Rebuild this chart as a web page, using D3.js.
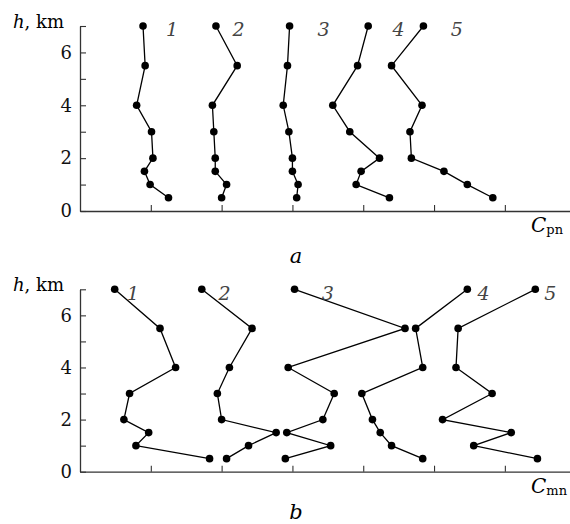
<!DOCTYPE html>
<html>
<head>
<meta charset="utf-8">
<script src="https://cdn.jsdelivr.net/npm/d3@7"></script>
<style>
  body { margin: 0; background: #fff; }
  svg text { font-family: "DejaVu Serif", serif; }
</style>
</head>
<body>
<svg id="chart" width="570" height="524"></svg>
<script>
const heights = [7, 5.5, 4, 3, 2, 1.5, 1, 0.5];
const curveNames = ["1", "2", "3", "4", "5"];

// panel a, C_pn
const cpn1 = [0.89, 0.92, 0.8, 1.01, 1.03, 0.91, 0.99, 1.25];
const cpn2 = [1.92, 2.22, 1.87, 1.89, 1.91, 1.91, 2.07, 2.0];
const cpn3 = [2.96, 2.93, 2.87, 2.95, 3.0, 3.0, 3.08, 3.06];
const cpn4 = [4.07, 3.92, 3.57, 3.81, 4.23, 3.97, 3.9, 4.37];
const cpn5 = [4.85, 4.4, 4.83, 4.66, 4.68, 5.14, 5.47, 5.83];

// panel b, C_mn
const cmn1 = [0.49, 1.13, 1.35, 0.7, 0.62, 0.97, 0.79, 1.83];
const cmn2 = [1.72, 2.43, 2.11, 1.94, 2.0, 2.77, 2.38, 2.07];
const cmn3 = [3.03, 4.59, 2.94, 3.59, 3.43, 2.92, 3.54, 2.9];
const cmn4 = [5.47, 4.74, 4.84, 3.98, 4.13, 4.24, 4.4, 4.84];
const cmn5 = [6.43, 5.34, 5.31, 5.82, 5.12, 6.09, 5.56, 6.46];

// where the curve numbers sit (x in C units, h in km)
const labelsA = [[1.3, 6.8], [2.24, 6.8], [3.44, 6.8], [4.5, 6.8], [5.32, 6.8]];
const labelsB = [[0.75, 6.8], [2.04, 6.8], [3.5, 6.8], [5.7, 6.8], [6.64, 6.8]];

const xTicks = [1, 2, 3, 4, 5, 6];
const yTicks = [0, 1, 2, 3, 4, 5, 6, 7];

const svg = d3.select("#chart");

const x = d3.scaleLinear().domain([0, 6.92]).range([80, 570]);

const drawPanel = (series, labels, y0, y7, letter, sub, letterY) => {
  const y = d3.scaleLinear().domain([0, 7]).range([y0, y7]);
  const g = svg.append("g");

  const yAxis = g
    .append("g")
    .attr("transform", "translate(80,0)")
    .call(
      d3.axisLeft(y)
        .tickValues(yTicks)
        .tickSize(-6)
        .tickSizeOuter(0)
        .tickPadding(8)
        .tickFormat((d) => (d % 2 === 0 ? d : ""))
    );
  const xAxis = g
    .append("g")
    .attr("transform", "translate(0," + y0 + ")")
    .call(
      d3.axisBottom(x)
        .tickValues(xTicks)
        .tickSize(-6)
        .tickSizeOuter(0)
        .tickFormat("")
    );
  [yAxis, xAxis].forEach((a) => {
    a.attr("font-family", null);
    a.select(".domain").attr("stroke", "#333").attr("stroke-width", 1.3);
    a.selectAll(".tick line").attr("stroke", "#333").attr("stroke-width", 1.1);
    a.selectAll("text").attr("font-size", 18).attr("fill", "#111");
  });

  const line = d3
    .line()
    .x((d) => x(d[0]))
    .y((d) => y(d[1]));

  series.forEach((vals, i) => {
    const pts = vals.map((v, j) => [v, heights[j]]);
    g.append("path")
      .attr("d", line(pts))
      .attr("fill", "none")
      .attr("stroke", "#000")
      .attr("stroke-width", 1.3);
    g.selectAll(".dot" + i)
      .data(pts)
      .enter()
      .append("circle")
      .attr("cx", (d) => x(d[0]))
      .attr("cy", (d) => y(d[1]))
      .attr("r", 3.8)
      .attr("fill", "#000");
    g.append("text")
      .attr("x", x(labels[i][0]))
      .attr("y", y(labels[i][1]))
      .attr("text-anchor", "middle")
      .attr("dominant-baseline", "middle")
      .attr("font-style", "italic")
      .attr("font-size", 19)
      .attr("fill", "#444")
      .text(curveNames[i]);
  });

  // h, km
  const hk = g.append("text").attr("x", 13).attr("y", y7 + 2).attr("font-size", 18);
  hk.append("tspan").attr("font-style", "italic").text("h");
  hk.append("tspan").text(", km");

  // C with subscript
  const c = g.append("text").attr("x", 531).attr("y", y0 + 21).attr("font-size", 20);
  c.append("tspan").attr("font-style", "italic").text("C");
  c.append("tspan").attr("font-size", 13).attr("dy", 2).text(sub);

  g.append("text")
    .attr("x", 296)
    .attr("y", letterY)
    .attr("text-anchor", "middle")
    .attr("font-style", "italic")
    .attr("font-size", 21)
    .text(letter);
};

drawPanel([cpn1, cpn2, cpn3, cpn4, cpn5], labelsA, 211, 26, "a", "pn", 263);
drawPanel([cmn1, cmn2, cmn3, cmn4, cmn5], labelsB, 471.7, 289.3, "b", "mn", 519);
</script>
</body>
</html>
